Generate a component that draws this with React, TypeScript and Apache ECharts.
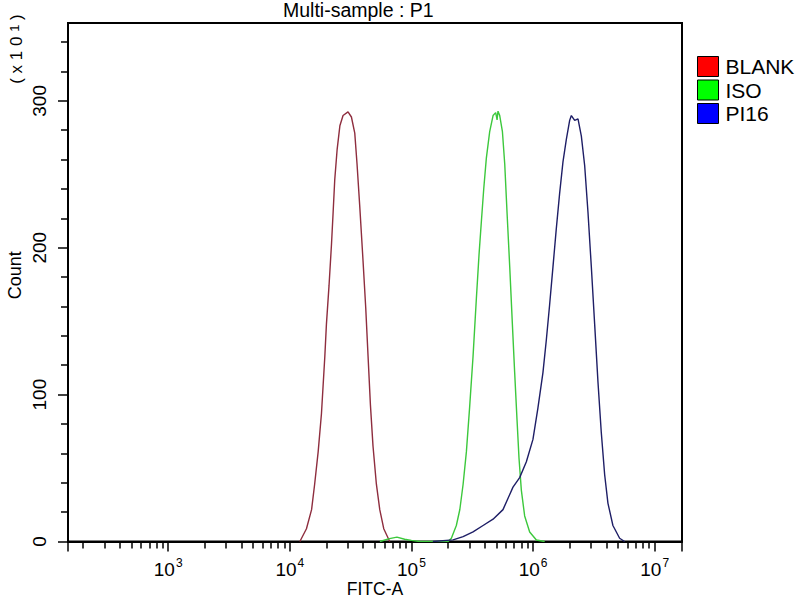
import React, { useEffect, useRef } from "react";
import * as echarts from "echarts";

// ---- data (FITC-A value, count in units of 10) ----
const blankX = [12100, 13700, 15100, 16000, 17100, 18200, 19400, 20000, 21000, 22000, 22700, 23400, 24500, 25800, 27400, 30100, 32100, 34200, 35700, 37600, 40000, 42100, 44000, 46000, 48300, 51500, 54900, 59200, 66300];
const blankY = [0, 8.7, 21.7, 39, 61, 87, 126, 148, 174, 202, 224, 246, 267, 283, 290, 292.5, 289, 278, 257, 228, 191, 159, 126, 93, 65, 39, 21.7, 8.7, 0];

const isoX = [55000, 66000, 76000, 88000, 100000, 117000, 200000, 213000, 234000, 250000, 266000, 283000, 301000, 321000, 342000, 360000, 376000, 393000, 413000, 440000, 469000, 493000, 506000, 515000, 532000, 560000, 585000, 611000, 643000, 676000, 706000, 738000, 766000, 801000, 853000, 938000, 1065000, 1247000];
const isoY = [0, 2, 3, 1.5, 0.8, 0, 0, 2.2, 10.9, 21.8, 39, 61, 91.5, 126, 165.6, 196, 218, 240, 261, 279, 290, 292, 287, 293, 290, 279, 257, 224, 187, 148, 115, 83, 57, 35, 17.4, 6.5, 1, 0];

const pi16X = [150000, 220000, 266000, 321000, 388000, 469000, 566000, 684000, 776000, 881000, 998000, 1097000, 1206000, 1285000, 1368000, 1458000, 1553000, 1654000, 1762000, 1878000, 2000000, 2065000, 2199000, 2342000, 2495000, 2657000, 2830000, 3014000, 3210000, 3418000, 3641000, 3878000, 4130000, 4536000, 5150000, 5660000];
const pi16Y = [0, 1.1, 3.3, 6.5, 10.9, 15.2, 21.7, 37, 43.5, 54.3, 69.5, 91, 115, 137, 161, 187, 213, 237, 258.5, 273.7, 286.7, 290, 286.7, 287.8, 276, 256, 224, 187, 148, 108.6, 74, 45.6, 26, 10.9, 2.2, 0];

const seriesNames = ["BLANK", "ISO", "PI16"];
const lineColors = ["#8e2d3e", "#3cc83c", "#1e1e66"];
const swatchColors = ["#ff0000", "#00ff00", "#0000ff"];

const xMin = 150;
const xMax = 16777216;
const yMin = 0;
const yMax = 353;

const xLabelValues = [1e3, 1e4, 1e5, 1e6, 1e7];
const xMajorTicks = [xMin, 1e3, 1e4, 1e5, 1e6, 1e7, xMax];
const xMinorTicks = [
  200, 300, 400, 500, 600, 700, 800, 900,
  2e3, 3e3, 4e3, 5e3, 6e3, 7e3, 8e3, 9e3,
  2e4, 3e4, 4e4, 5e4, 6e4, 7e4, 8e4, 9e4,
  2e5, 3e5, 4e5, 5e5, 6e5, 7e5, 8e5, 9e5,
  2e6, 3e6, 4e6, 5e6, 6e6, 7e6, 8e6, 9e6,
];
const yLabelValues = [0, 100, 200, 300];
const yMinorTicks = [20, 40, 60, 80, 120, 140, 160, 180, 220, 240, 260, 280, 320, 340];

const FONT = "'Liberation Sans', Arial, sans-serif";

function pairs(xs: number[], ys: number[]) {
  return xs.map((x, i) => [x, ys[i]]);
}

export default function App() {
  const ref = useRef<HTMLDivElement>(null);
  useEffect(() => {
    document.body.style.margin = "0";
    if (!ref.current) return;
    const chart = echarts.init(ref.current, undefined, { renderer: "svg" });
    const data = [pairs(blankX, blankY), pairs(isoX, isoY), pairs(pi16X, pi16Y)];
    const option: any = {
      animation: false,
      backgroundColor: "#ffffff",
      title: {
        text: "Multi-sample : P1",
        left: 283,
        top: 0,
        padding: 0,
        textStyle: { fontSize: 19.5, fontWeight: "normal", color: "#000", fontFamily: FONT },
      },
      legend: {
        orient: "vertical",
        left: 697,
        top: 56,
        padding: 0,
        itemWidth: 21,
        itemHeight: 20,
        itemGap: 2.5,
        icon: "rect",
        textStyle: { fontSize: 21, color: "#000", fontFamily: FONT, padding: [2, 0, 0, 2] },
        data: seriesNames.map((n, i) => ({
          name: n,
          itemStyle: { color: swatchColors[i], borderColor: "#000", borderWidth: 1 },
        })),
      },
      grid: {
        left: 68,
        top: 23,
        width: 614,
        height: 518.5,
        outerBoundsMode: "none",
        containLabel: false,
        show: true,
        borderColor: "#000",
        borderWidth: 2,
        backgroundColor: "transparent",
      },
      xAxis: [
        {
          type: "log",
          logBase: 10,
          min: xMin,
          max: xMax,
          position: "bottom",
          axisLine: { lineStyle: { color: "#000", width: 2 } },
          axisTick: { customValues: xMajorTicks, length: 10, lineStyle: { color: "#000", width: 1.5 } },
          axisLabel: {
            customValues: xLabelValues,
            margin: 15,
            color: "#000",
            formatter: (v: number) => `{b|10}{s|${Math.round(Math.log10(v))}}`,
            rich: {
              b: { fontSize: 19, fontFamily: FONT, color: "#000", lineHeight: 22, verticalAlign: "bottom" },
              s: { fontSize: 12, fontFamily: FONT, color: "#000", lineHeight: 22, verticalAlign: "top", padding: [0, 0, 0, 1] },
            },
          },
          splitLine: { show: false },
          name: "FITC-A",
          nameLocation: "middle",
          nameMoveOverlap: false,
          nameGap: 38,
          nameTextStyle: { fontSize: 17.5, lineHeight: 18, color: "#000", fontFamily: FONT },
        },
        {
          type: "log",
          logBase: 10,
          min: xMin,
          max: xMax,
          position: "bottom",
          gridIndex: 0,
          axisLine: { show: false },
          axisTick: { customValues: xMinorTicks, length: 7, lineStyle: { color: "#000", width: 1.5 } },
          axisLabel: { show: false },
          splitLine: { show: false },
        },
      ],
      yAxis: [
        {
          type: "value",
          min: yMin,
          max: yMax,
          position: "left",
          axisLine: { lineStyle: { color: "#000", width: 2 } },
          axisTick: { customValues: yLabelValues, length: 10, lineStyle: { color: "#000", width: 1.5 } },
          axisLabel: {
            customValues: yLabelValues,
            rotate: 90,
            margin: 19,
            fontSize: 19,
            color: "#000",
            fontFamily: FONT,
          },
          splitLine: { show: false },
          name: "Count",
          nameLocation: "middle",
          nameMoveOverlap: false,
          nameRotate: 90,
          nameGap: 44,
          nameTextStyle: { fontSize: 18, color: "#000", fontFamily: FONT, padding: [0, 0, 0, 14] },
        },
        {
          type: "value",
          min: yMin,
          max: yMax,
          position: "left",
          gridIndex: 0,
          axisLine: { show: false },
          axisTick: { customValues: yMinorTicks, length: 7, lineStyle: { color: "#000", width: 1.5 } },
          axisLabel: { show: false },
          splitLine: { show: false },
        },
      ],
      graphic: [
        {
          type: "text",
          x: 16.5,
          y: 49,
          rotation: Math.PI / 2,
          style: {
            text: "( x 1 0 {s|1} )",
            fontSize: 17,
            fontFamily: FONT,
            fill: "#000",
            align: "center",
            verticalAlign: "middle",
            rich: {
              s: { fontSize: 13, fontFamily: FONT, fill: "#000", verticalAlign: "bottom", padding: [0, 0, 5, 0] },
            },
          },
        },
      ],
      series: seriesNames.map((n, i) => ({
        name: n,
        type: "line",
        xAxisIndex: 0,
        yAxisIndex: 0,
        showSymbol: false,
        symbol: "none",
        data: data[i],
        lineStyle: { color: lineColors[i], width: 1.4 },
        itemStyle: { color: lineColors[i] },
        z: 3,
      })),
    };
    chart.setOption(option);
    return () => chart.dispose();
  }, []);
  return <div ref={ref} style={{ width: 800, height: 600 }} />;
}
